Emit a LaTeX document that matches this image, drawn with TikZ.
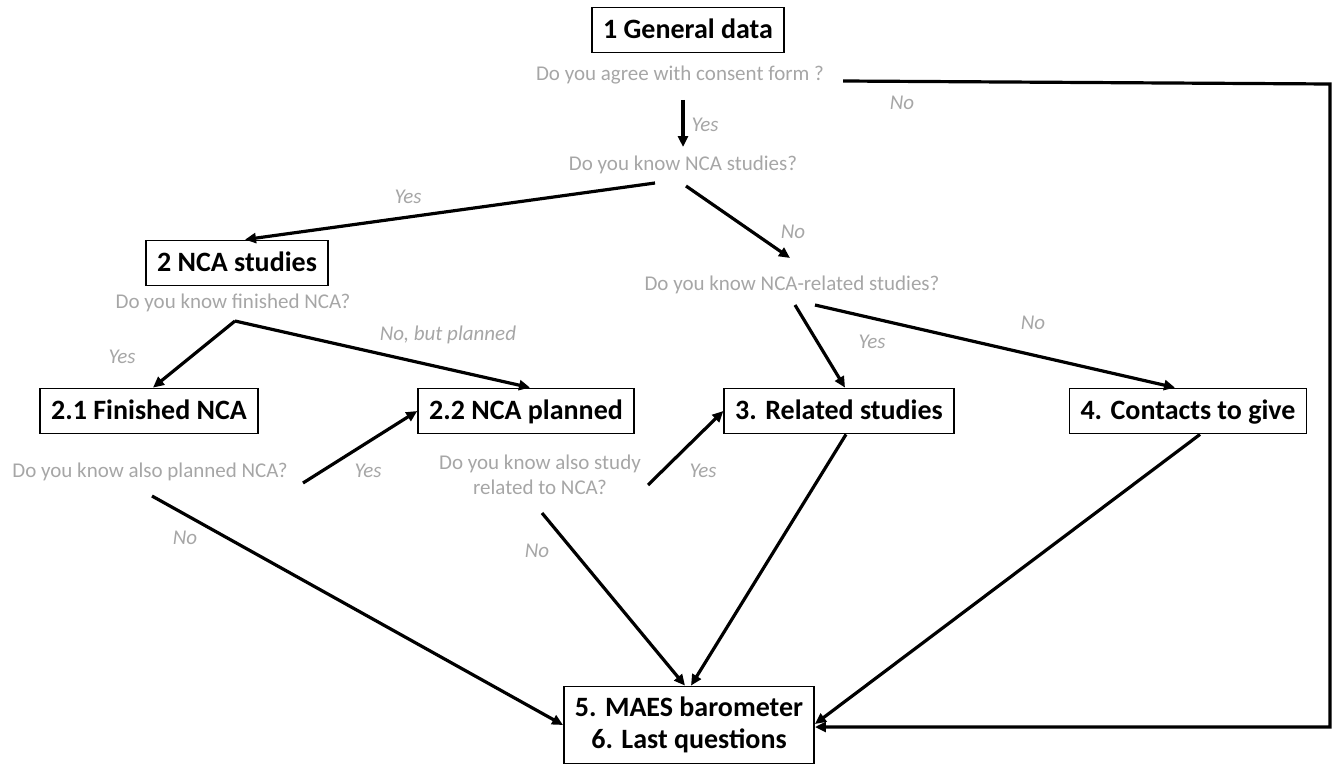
\documentclass[tikz,border=0pt]{standalone}
\usepackage{fontspec}
\setmainfont{Carlito}
\usetikzlibrary{arrows.meta}
\definecolor{qgrey}{HTML}{A6A6A6}
\tikzset{
  boxbase/.style={draw, line width=1.8pt, font=\fontsize{28}{32}\selectfont\bfseries,
    inner xsep=11pt, inner ysep=3pt, minimum height=45pt, align=center},
  box/.style={boxbase, text height=22pt, text depth=5pt},
  question/.style={text=qgrey, font=\fontsize{21}{25}\selectfont, align=center, inner sep=1pt},
  answer/.style={text=qgrey, font=\fontsize{21}{25}\selectfont\itshape, inner sep=1pt},
  flow/.style={line width=3.2pt, -{Triangle[length=11pt,width=10pt]}}
}

\begin{document}
\begin{tikzpicture}[x=1pt, y=-1pt]
\useasboundingbox (0,0) rectangle (1337,765);

% Boxes
\node[box] (gen) at (688,30) {1 General data};
\node[box] (ncastud) at (237,263) {2 NCA studies};
\node[box] (fin) at (149,411) {2.1 Finished NCA};
\node[box] (plan) at (526,411) {2.2 NCA planned};
\node[box] (rel) at (839,411) {3. Related studies};
\node[box] (cont) at (1188,411) {4. Contacts to give};
\node[boxbase, minimum width=246pt, minimum height=77pt] (maes) at (689,725)
  {5. MAES barometer\\6. Last questions};

% Questions
\node[question] (q1) at (680,75) {Do you agree with consent form ?};
\node[question] (q2) at (683,165) {Do you know NCA studies?};
\node[question] (q4) at (233,303) {Do you know finished NCA?};
\node[question] (q3) at (792,285) {Do you know NCA-related studies?};
\node[question] (q5) at (150,472) {Do you know also planned NCA?};
\node[question] (q6) at (540,475) {Do you know also study\\related to NCA?};

% Answers
\node[answer] (a1) at (705,125) {Yes};
\node[answer] (a2) at (902,103) {No};
\node[answer] (a3) at (408,197) {Yes};
\node[answer] (a4) at (793,232) {No};
\node[answer] (a5) at (122,357) {Yes};
\node[answer] (a6) at (448,335) {No, but planned};
\node[answer] (a7) at (872,342) {Yes};
\node[answer] (a8) at (1033,323) {No};
\node[answer] (a9) at (368,471) {Yes};
\node[answer] (a10) at (185,538) {No};
\node[answer] (a11) at (703,471) {Yes};
\node[answer] (a12) at (537,551) {No};

% Connectors
\draw[flow] ([shift={(3,25)}]q1.center) -- ([shift={(0,-18)}]q2.center);
\draw[flow] ([shift={(163,6)}]q1.center) -- ++(487,3) |- ([shift={(0,2)}]maes.east);
\draw[flow] ([shift={(-28,18)}]q2.center) -- ([shift={(8,0)}]ncastud.north);
\draw[flow] ([shift={(3,21)}]q2.center) -- ([shift={(-2,-27)}]q3.center);
\draw[flow] ([shift={(2,18)}]q4.center) -- ([shift={(4,0)}]fin.north);
\draw[flow] ([shift={(2,18)}]q4.center) -- ([shift={(4,0)}]plan.north);
\draw[flow] ([shift={(3,20)}]q3.center) -- ([shift={(6,0)}]rel.north);
\draw[flow] ([shift={(23,20)}]q3.center) -- ([shift={(-13,0)}]cont.north);
\draw[flow] ([shift={(153,11)}]q5.center) -- (plan.west);
\draw[flow] ([shift={(2,24)}]q5.center) -- (maes.west);
\draw[flow] ([shift={(108,10)}]q6.center) -- (rel.west);
\draw[flow] ([shift={(2,38)}]q6.center) -- ([shift={(-4,0)}]maes.north);
\draw[flow] ([shift={(7,0)}]rel.south) -- ([shift={(2,0)}]maes.north);
\draw[flow] ([shift={(12,0)}]cont.south) -- ([shift={(0,-1)}]maes.east);
\end{tikzpicture}
\end{document}
